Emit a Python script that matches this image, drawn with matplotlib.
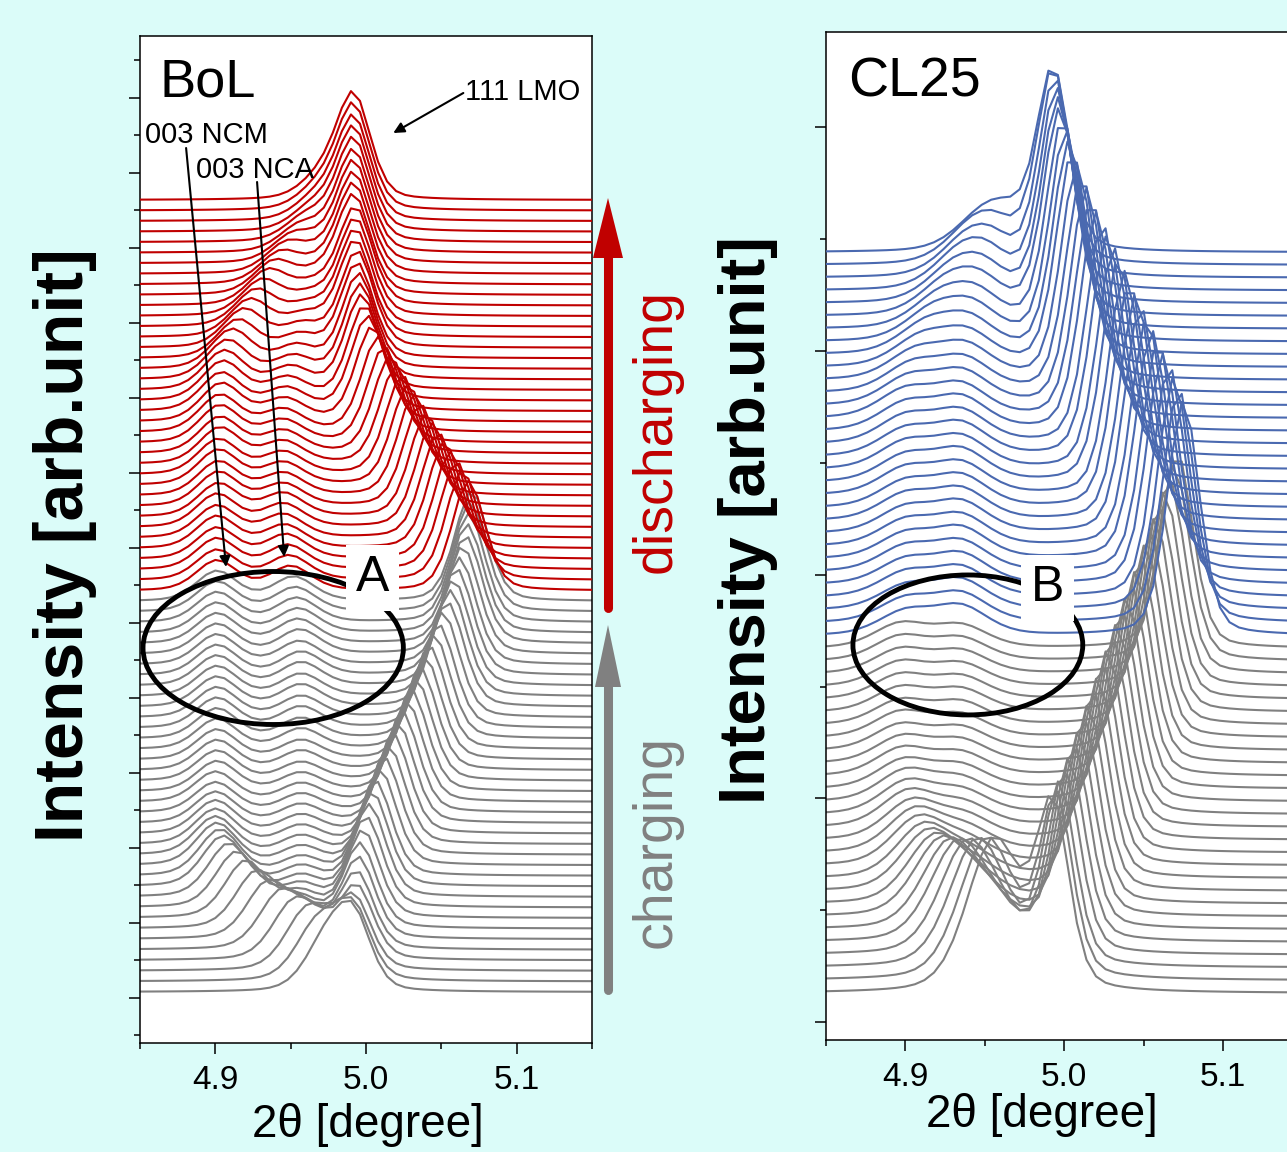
import numpy as np
import matplotlib.pyplot as plt
from matplotlib.patches import Ellipse, Polygon
from matplotlib.lines import Line2D
from matplotlib.ticker import MultipleLocator, FormatStrFormatter

plt.rcParams['font.family'] = ['Liberation Sans', 'DejaVu Sans']

# 2theta grid of the scans
two_theta = np.round(np.arange(4.846, 5.156, 0.006), 3)

# ---------------- BoL : 38 charging scans (grey) + 38 discharging scans (red)
bol_n_charge = 38
bol_base = 55
bol_step = 105.6
bol_fwhm_lmo = 0.026
bol_fwhm_003 = 0.032

bol_lmo_pos = [
    4.993, 4.993, 4.993, 4.994, 4.994, 4.995, 4.996, 4.998, 5.000, 5.002,
    5.004, 5.006, 5.009, 5.012, 5.015, 5.018, 5.021, 5.024, 5.027, 5.030,
    5.033, 5.036, 5.039, 5.042, 5.045, 5.048, 5.051, 5.054, 5.056, 5.058,
    5.060, 5.062, 5.064, 5.066, 5.067, 5.068, 5.069, 5.070,
    5.068, 5.064, 5.060, 5.056, 5.052, 5.048, 5.044, 5.040, 5.036, 5.032,
    5.028, 5.024, 5.020, 5.016, 5.012, 5.008, 5.004, 5.001, 4.999, 4.997,
    4.996, 4.995, 4.994, 4.994, 4.993, 4.993, 4.993, 4.993, 4.992, 4.992,
    4.992, 4.992, 4.992, 4.992, 4.992, 4.992, 4.992, 4.992]
bol_lmo_amp = [
    520, 580, 640, 700, 750, 800, 840, 870, 900, 920,
    940, 950, 960, 970, 980, 990, 1000, 1000, 1010, 1010,
    1020, 1020, 1030, 1030, 1040, 1040, 1050, 1050, 1060, 1060,
    1070, 1070, 1080, 1080, 1090, 1090, 1100, 1100,
    1100, 1090, 1080, 1070, 1060, 1050, 1040, 1030, 1020, 1010,
    1000, 990, 980, 970, 960, 950, 950, 950, 950, 950,
    950, 950, 950, 960, 960, 960, 960, 960, 970, 970,
    970, 980, 980, 990, 990, 990, 1000, 1000]
bol_ncm_pos = [
    4.972, 4.965, 4.958, 4.950, 4.942, 4.934, 4.927, 4.920, 4.914, 4.909,
    4.905, 4.903, 4.901, 4.900, 4.900, 4.900, 4.900, 4.900, 4.900, 4.901,
    4.901, 4.901, 4.901, 4.901, 4.901, 4.901, 4.901, 4.901, 4.901, 4.901,
    4.901, 4.901, 4.901, 4.901, 4.901, 4.901, 4.901, 4.901,
    4.901, 4.901, 4.901, 4.901, 4.901, 4.901, 4.901, 4.902, 4.902, 4.902,
    4.902, 4.902, 4.903, 4.903, 4.903, 4.903, 4.904, 4.904, 4.905, 4.906,
    4.908, 4.911, 4.915, 4.919, 4.923, 4.927, 4.931, 4.935, 4.939, 4.943,
    4.947, 4.951, 4.955, 4.959, 4.963, 4.966, 4.968, 4.970]
bol_ncm_amp = [
    380, 400, 430, 460, 500, 530, 550, 560, 550, 530,
    500, 460, 420, 380, 350, 330, 310, 300, 300, 300,
    300, 300, 300, 300, 300, 300, 300, 300, 300, 300,
    300, 300, 300, 300, 300, 300, 300, 300,
    300, 300, 310, 310, 320, 320, 330, 330, 340, 340,
    350, 350, 360, 360, 370, 370, 380, 380, 390, 390,
    390, 390, 380, 380, 370, 360, 350, 340, 320, 300,
    280, 250, 220, 200, 180, 170, 160, 150]
bol_nca_pos = [
    4.984, 4.978, 4.972, 4.967, 4.963, 4.960, 4.958, 4.957, 4.957, 4.957,
    4.957, 4.957, 4.957, 4.957, 4.957, 4.957, 4.957, 4.957, 4.957, 4.957,
    4.957, 4.957, 4.957, 4.957, 4.957, 4.957, 4.957, 4.957, 4.957, 4.957,
    4.957, 4.956, 4.956, 4.955, 4.955, 4.954, 4.953, 4.952,
    4.950, 4.949, 4.948, 4.947, 4.946, 4.945, 4.945, 4.945, 4.945, 4.945,
    4.945, 4.945, 4.945, 4.945, 4.945, 4.945, 4.946, 4.947, 4.948, 4.950,
    4.952, 4.954, 4.956, 4.958, 4.960, 4.962, 4.964, 4.966, 4.968, 4.970,
    4.971, 4.972, 4.973, 4.974, 4.975, 4.975, 4.975, 4.975]
bol_nca_amp = [
    280, 300, 300, 290, 280, 270, 260, 240, 220, 200,
    190, 180, 180, 180, 180, 180, 180, 180, 180, 180,
    180, 190, 190, 200, 200, 210, 210, 220, 220, 230,
    230, 230, 240, 240, 240, 240, 240, 240,
    240, 240, 240, 240, 230, 230, 230, 230, 220, 220,
    220, 220, 220, 220, 220, 220, 220, 220, 220, 220,
    220, 220, 220, 220, 210, 200, 190, 180, 170, 160,
    150, 140, 130, 120, 110, 100, 100, 100]

# ---------------- CL25 : 28 charging scans (grey) + 31 discharging scans (blue)
cl25_n_charge = 28
cl25_base = 290
cl25_step = 128.5
cl25_fwhm_lmo = 0.024
cl25_fwhm_003 = 0.040

cl25_lmo_pos = [
    4.993, 4.995, 4.997, 5.000, 5.003, 5.006, 5.009, 5.012, 5.015, 5.018,
    5.021, 5.024, 5.027, 5.030, 5.033, 5.036, 5.039, 5.042, 5.045, 5.048,
    5.051, 5.054, 5.057, 5.060, 5.063, 5.066, 5.069, 5.071,
    5.075, 5.072, 5.069, 5.066, 5.062, 5.059, 5.055, 5.052, 5.048, 5.045,
    5.041, 5.038, 5.034, 5.031, 5.027, 5.024, 5.020, 5.017, 5.014, 5.011,
    5.008, 5.005, 5.003, 5.001, 4.999, 4.997, 4.996, 4.995, 4.994, 4.993,
    4.993]
cl25_lmo_amp = [
    1780, 1790, 1800, 1810, 1820, 1830, 1840, 1850, 1860, 1870,
    1880, 1890, 1900, 1900, 1910, 1910, 1920, 1920, 1930, 1930,
    1940, 1940, 1950, 1950, 1960, 1960, 1970, 1970,
    2360, 2350, 2340, 2330, 2320, 2310, 2300, 2290, 2280, 2270,
    2260, 2250, 2240, 2230, 2220, 2210, 2200, 2190, 2180, 2170,
    2160, 2150, 2140, 2120, 2100, 2080, 2050, 2020, 1990, 1950,
    1800]
cl25_ncm_pos = [
    4.955, 4.950, 4.944, 4.938, 4.932, 4.927, 4.922, 4.918, 4.914, 4.911,
    4.908, 4.906, 4.904, 4.902, 4.901, 4.900, 4.899, 4.898, 4.898, 4.897,
    4.897, 4.897, 4.897, 4.897, 4.897, 4.897, 4.897, 4.897,
    4.900, 4.900, 4.900, 4.900, 4.900, 4.900, 4.900, 4.900, 4.900, 4.900,
    4.900, 4.900, 4.900, 4.900, 4.900, 4.900, 4.900, 4.900, 4.902, 4.904,
    4.906, 4.909, 4.912, 4.916, 4.920, 4.924, 4.928, 4.932, 4.936, 4.940,
    4.945]
cl25_ncm_amp = [
    1380, 1260, 1140, 1020, 910, 810, 720, 640, 570, 510,
    460, 420, 380, 350, 320, 300, 280, 270, 260, 250,
    250, 240, 240, 240, 240, 240, 240, 240,
    230, 230, 230, 235, 235, 240, 240, 245, 245, 250,
    250, 255, 255, 260, 260, 265, 265, 270, 270, 270,
    270, 270, 270, 270, 265, 260, 255, 250, 240, 230,
    200]
cl25_nca_pos = [
    4.966, 4.963, 4.960, 4.957, 4.954, 4.951, 4.948, 4.946, 4.944, 4.942,
    4.940, 4.939, 4.938, 4.937, 4.936, 4.935, 4.935, 4.935, 4.935, 4.935,
    4.935, 4.935, 4.935, 4.935, 4.935, 4.935, 4.935, 4.935,
    4.935, 4.935, 4.935, 4.935, 4.935, 4.935, 4.935, 4.935, 4.935, 4.935,
    4.935, 4.935, 4.935, 4.935, 4.935, 4.935, 4.935, 4.935, 4.936, 4.937,
    4.938, 4.939, 4.940, 4.942, 4.944, 4.946, 4.948, 4.950, 4.953, 4.956,
    4.962]
cl25_nca_amp = [
    180, 200, 220, 240, 250, 250, 240, 230, 225, 220,
    220, 220, 220, 220, 220, 220, 220, 220, 220, 220,
    220, 220, 220, 220, 220, 220, 220, 220,
    280, 280, 285, 285, 290, 290, 295, 295, 300, 300,
    305, 305, 310, 310, 315, 315, 320, 320, 320, 320,
    325, 325, 330, 330, 330, 335, 335, 340, 340, 345,
    350]

RED = '#c00000'
GREY = '#808080'
BLUE = '#4a69b0'
BG = '#dbfcf9'


def peak(x, pos, amp, fwhm, eta=0.3):
    d = (x - pos) / (fwhm / 2)
    return amp * (eta / (1 + d ** 2) + (1 - eta) * np.exp(-np.log(2) * d ** 2))


def draw_stack(ax, base, step, n_charge, col2, fw_lmo, fw_003,
               lmo_p, lmo_a, ncm_p, ncm_a, nca_p, nca_a):
    for i in range(len(lmo_p)):
        y = (base + i * step
             + peak(two_theta, lmo_p[i], lmo_a[i], fw_lmo)
             + peak(two_theta, ncm_p[i], ncm_a[i], fw_003)
             + peak(two_theta, nca_p[i], nca_a[i], fw_003))
        c = GREY if i < n_charge else col2
        ax.plot(two_theta, y, color=c, lw=1.5, zorder=2 if i < n_charge else 3)


def style_axis(ax, ylim, major, minor):
    ax.set_xlim(4.85, 5.15)
    ax.set_ylim(*ylim)
    ax.xaxis.set_major_locator(MultipleLocator(0.1))
    ax.xaxis.set_minor_locator(MultipleLocator(0.05))
    ax.xaxis.set_major_formatter(FormatStrFormatter('%.1f'))
    ax.yaxis.set_major_locator(MultipleLocator(major))
    ax.yaxis.set_minor_locator(MultipleLocator(minor))
    ax.tick_params(axis='y', which='both', labelleft=False)
    ax.tick_params(which='major', length=8, width=1.1, labelsize=24, pad=8)
    ax.tick_params(which='minor', length=4.5, width=1.1)
    for s in ax.spines.values():
        s.set_linewidth(1.1)


fig = plt.figure(figsize=(12.87, 11.52), dpi=100)
fig.patch.set_facecolor(BG)

ax1 = fig.add_axes([140 / 1287, 109 / 1152, 452 / 1287, 1007 / 1152])
ax2 = fig.add_axes([826 / 1287, 112 / 1152, 476.5 / 1287, 1008 / 1152])

draw_stack(ax1, bol_base, bol_step, bol_n_charge, RED, bol_fwhm_lmo, bol_fwhm_003,
           bol_lmo_pos, bol_lmo_amp, bol_ncm_pos, bol_ncm_amp, bol_nca_pos, bol_nca_amp)
draw_stack(ax2, cl25_base, cl25_step, cl25_n_charge, BLUE, cl25_fwhm_lmo, cl25_fwhm_003,
           cl25_lmo_pos, cl25_lmo_amp, cl25_ncm_pos, cl25_ncm_amp, cl25_nca_pos, cl25_nca_amp)

style_axis(ax1, (-455, 9615), 750, 375)
style_axis(ax2, (-181, 9959), 2250, 1125)

# panel titles
ax1.text(0.044, 0.954, 'BoL', transform=ax1.transAxes, fontsize=39, va='center')
ax2.text(0.046, 0.950, 'CL25', transform=ax2.transAxes, fontsize=40, va='center')

# peak labels
arr = dict(arrowstyle='-|>', color='k', lw=1.5, mutation_scale=16, shrinkA=0, shrinkB=0)
ax1.text(5.066, 9055, '111 LMO', fontsize=21, va='center', ha='left')
ax1.annotate('', xy=(5.0181, 8645), xytext=(5.0646, 9045), arrowprops=arr)
ax1.text(4.8533, 8625, '003 NCM', fontsize=21, va='center', ha='left')
ax1.annotate('', xy=(4.9071, 4305), xytext=(4.8806, 8495), arrowprops=arr)
ax1.text(4.8872, 8275, '003 NCA', fontsize=21, va='center', ha='left')
ax1.annotate('', xy=(4.9457, 4405), xytext=(4.9277, 8155), arrowprops=arr)

# ellipses + region labels
ax1.add_patch(Ellipse((4.9384, 3495), 0.1728, 1530, fill=False, lw=3.5, ec='k', zorder=5))
ax2.add_patch(Ellipse((4.9393, 3793), 0.1447, 1408, fill=False, lw=3.5, ec='k', zorder=5))
box = dict(boxstyle='square,pad=0.2', fc='white', ec='none')
ax1.text(5.0042, 4195, 'A', fontsize=36, ha='center', va='center', bbox=box, zorder=6)
ax2.text(4.9896, 4366, 'B', fontsize=36, ha='center', va='center', bbox=box, zorder=6)

# axis labels
fig.text(65 / 1287, 1 - 545 / 1152, 'Intensity [arb.unit]', rotation=90, fontsize=49,
         fontweight='bold', ha='center', va='center')
fig.text(748 / 1287, 1 - 520 / 1152, 'Intensity [arb.unit]', rotation=90, fontsize=47,
         fontweight='bold', ha='center', va='center')
fig.text(368 / 1287, 1 - 1125 / 1152, '2θ [degree]', fontsize=33, ha='center', va='center')
fig.text(1042 / 1287, 1 - 1115 / 1152, '2θ [degree]', fontsize=33, ha='center', va='center')

# charge / discharge arrows between the panels (figure pixels / 100 = inches)
tr = fig.dpi_scale_trans
fig.add_artist(Line2D([6.08, 6.08], [(1152 - 608) / 100, (1152 - 250) / 100], lw=6.5,
                      color=RED, solid_capstyle='round', transform=tr))
fig.add_artist(Polygon([[5.93, (1152 - 258) / 100], [6.23, (1152 - 258) / 100],
                        [6.08, (1152 - 198) / 100]], closed=True, fc=RED, ec='none',
                       transform=tr))
fig.add_artist(Line2D([6.08, 6.08], [(1152 - 990) / 100, (1152 - 680) / 100], lw=6.5,
                      color=GREY, solid_capstyle='round', transform=tr))
fig.add_artist(Polygon([[5.95, (1152 - 687) / 100], [6.21, (1152 - 687) / 100],
                        [6.08, (1152 - 625) / 100]], closed=True, fc=GREY, ec='none',
                       transform=tr))
fig.text(657 / 1287, 1 - 431 / 1152, 'discharging', rotation=90, fontsize=40,
         color=RED, ha='center', va='center')
fig.text(657 / 1287, 1 - 841 / 1152, 'charging', rotation=90, fontsize=40,
         color=GREY, ha='center', va='center')

fig.savefig('out.png', dpi=100, facecolor=BG)
